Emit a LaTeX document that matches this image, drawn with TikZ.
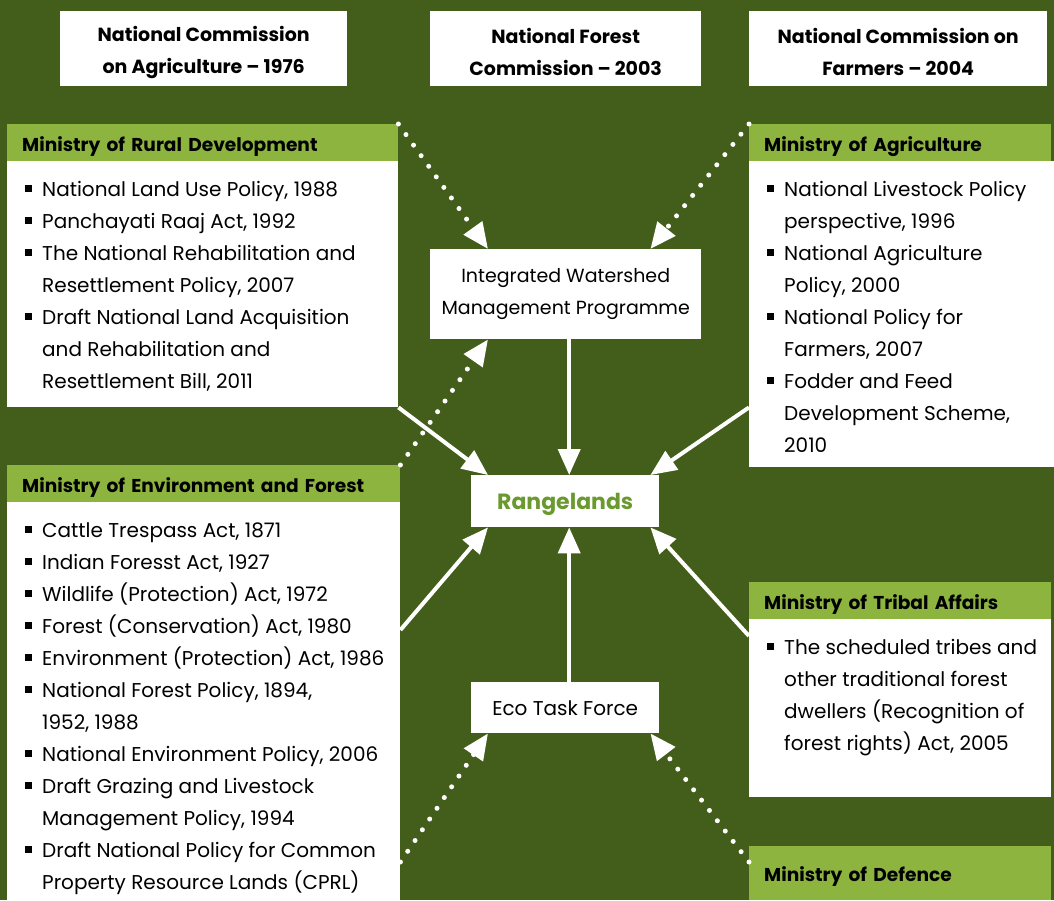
\documentclass[tikz,border=0pt]{standalone}
\usepackage{fontspec}
\setmainfont{Poppins}
\usetikzlibrary{arrows.meta,calc}
\definecolor{bggreen}{HTML}{435E1A}
\definecolor{headgreen}{HTML}{8CB43F}
\definecolor{rangegreen}{HTML}{6A9A2F}
\newcommand\listfont{\fontsize{20}{32}\selectfont}
\newcommand\bul{\par\noindent\hangindent=17pt\hangafter=1\makebox[17pt][l]{\rule[4pt]{7pt}{7pt}}}
\newcommand\bodytext[3]{\parbox[t][#1][t]{#2}{\raggedright\rightskip=-20pt plus 1fil\let\\\newline #3}}
\newcommand\topstrut{\rule{0pt}{22pt}}

\begin{document}
\begin{tikzpicture}[
    x=1pt, y=-1pt,
    topbox/.style={%
      fill=white,
      anchor=north west,
      minimum height=75pt,
      inner sep=0pt,
      align=center,
      font=\bfseries\fontsize{19}{32}\selectfont,
    },
    head/.style={%
      fill=headgreen,
      anchor=north west,
      minimum height=37pt,
      inner xsep=15pt, inner ysep=0pt,
      text height=17pt, text depth=0pt,
      align=left,
      font=\bfseries\fontsize{18.6}{22}\selectfont,
    },
    body/.style={%
      fill=white,
      anchor=north west,
      inner xsep=18pt, inner ysep=20pt,
      font=\listfont,
    },
    box/.style={%
      fill=white,
      anchor=north west,
      inner sep=0pt,
      align=center,
      font=\listfont,
    },
    flow/.style={white, line width=4pt, -{Triangle[length=26pt,width=22pt]}},
    link/.style={white, line width=5pt, line cap=round, dash pattern=on 0pt off 13pt,
      -{Triangle[length=26pt,width=22pt]}},
  ]

    \fill [bggreen] (0,0) rectangle (1054,900);
    \useasboundingbox (0,0) rectangle (1054,900);

    % commissions
    \node [topbox, minimum width=287pt] (nca) at (60,11) {\topstrut National Commission\\on Agriculture -- 1976};
    \node [topbox, minimum width=271pt] (nfc) at (430,11) {\topstrut National Forest\\Commission -- 2003};
    \node [topbox, minimum width=298pt] (ncf) at (749,11) {\topstrut National Commission on\\Farmers -- 2004};

    % ministries
    \node [head, text width=361pt] (rdhead) at (7,124) {Ministry of Rural Development};
    \node [body] (rdbody) at (7,161) {\bodytext{206pt}{355pt}{%
      \bul National Land Use Policy, 1988
      \bul Panchayati Raaj Act, 1992
      \bul The National Rehabilitation and\\Resettlement Policy, 2007
      \bul Draft National Land Acquisition\\and Rehabilitation and\\Resettlement Bill, 2011}};

    \node [head, text width=363pt] (envhead) at (7,465) {Ministry of Environment and Forest};
    \node [body] (envbody) at (7,502) {\bodytext{358pt}{357pt}{%
      \bul Cattle Trespass Act, 1871
      \bul Indian Foresst Act, 1927
      \bul Wildlife (Protection) Act, 1972
      \bul Forest (Conservation) Act, 1980
      \bul Environment (Protection) Act, 1986
      \bul National Forest Policy, 1894,\\1952, 1988
      \bul National Environment Policy, 2006
      \bul Draft Grazing and Livestock\\Management Policy, 1994
      \bul Draft National Policy for Common\\Property Resource Lands (CPRL)}};

    \node [head, text width=272pt] (aghead) at (749,124) {Ministry of Agriculture};
    \node [body] (agbody) at (749,161) {\bodytext{266pt}{269pt}{%
      \bul National Livestock Policy\\perspective, 1996
      \bul National Agriculture\\Policy, 2000
      \bul National Policy for\\Farmers, 2007
      \bul Fodder and Feed\\Development Scheme,\\2010}};

    \node [head, text width=272pt] (trhead) at (749,582) {Ministry of Tribal Affairs};
    \node [body] (trbody) at (749,619) {\bodytext{138pt}{266pt}{%
      \bul The scheduled tribes and\\other traditional forest\\dwellers (Recognition of\\forest rights) Act, 2005}};

    \node [head, text width=272pt, minimum height=54pt] (dfhead) at (749,846) {Ministry of Defence};

    % centre
    \node [box, minimum width=271pt, minimum height=90pt,
      font=\fontsize{19}{32}\selectfont] (iwmp) at (430,249) {Integrated Watershed\\Management Programme};
    \node [box, minimum width=188pt, minimum height=52pt, text=rangegreen, text depth=0pt,
      font=\bfseries\fontsize{22}{26}\selectfont] (range) at (471,475) {Rangelands};
    \node [box, minimum width=188pt, minimum height=51pt] (eco) at (471,682) {Eco Task Force};

    % connectors
    \draw [link] (rdhead.north east) -- ($(iwmp.north west)+(58,0)$);
    \draw [link] (aghead.north west) -- ($(iwmp.north east)+(-51,0)$);
    \draw [link] (envhead.north east) -- ($(iwmp.south west)+(58,0)$);
    \draw [flow] ($(iwmp.south)+(3.5,0)$) -- ($(range.north)+(4,0)$);
    \draw [flow] (rdbody.south east) -- ($(range.north west)+(17,0)$);
    \draw [flow] (agbody.west |- rdbody.south east) -- ($(range.north east)+(-9,0)$);
    \draw [flow] ($(envbody.north east)+(0,128)$) -- ($(range.south west)+(17,0)$);
    \draw [flow] ($(trbody.north west)+(0,17)$) -- ($(range.south east)+(-9,0)$);
    \draw [flow] ($(eco.north)+(4,0)$) -- ($(range.south)+(4,0)$);
    \draw [link] ($(envbody.north east)+(0,360)$) -- ($(eco.south west)+(17,0)$);
    \draw [link] ($(dfhead.north west)+(0,16)$) -- ($(eco.south east)+(-9,0)$);
\end{tikzpicture}
\end{document}
